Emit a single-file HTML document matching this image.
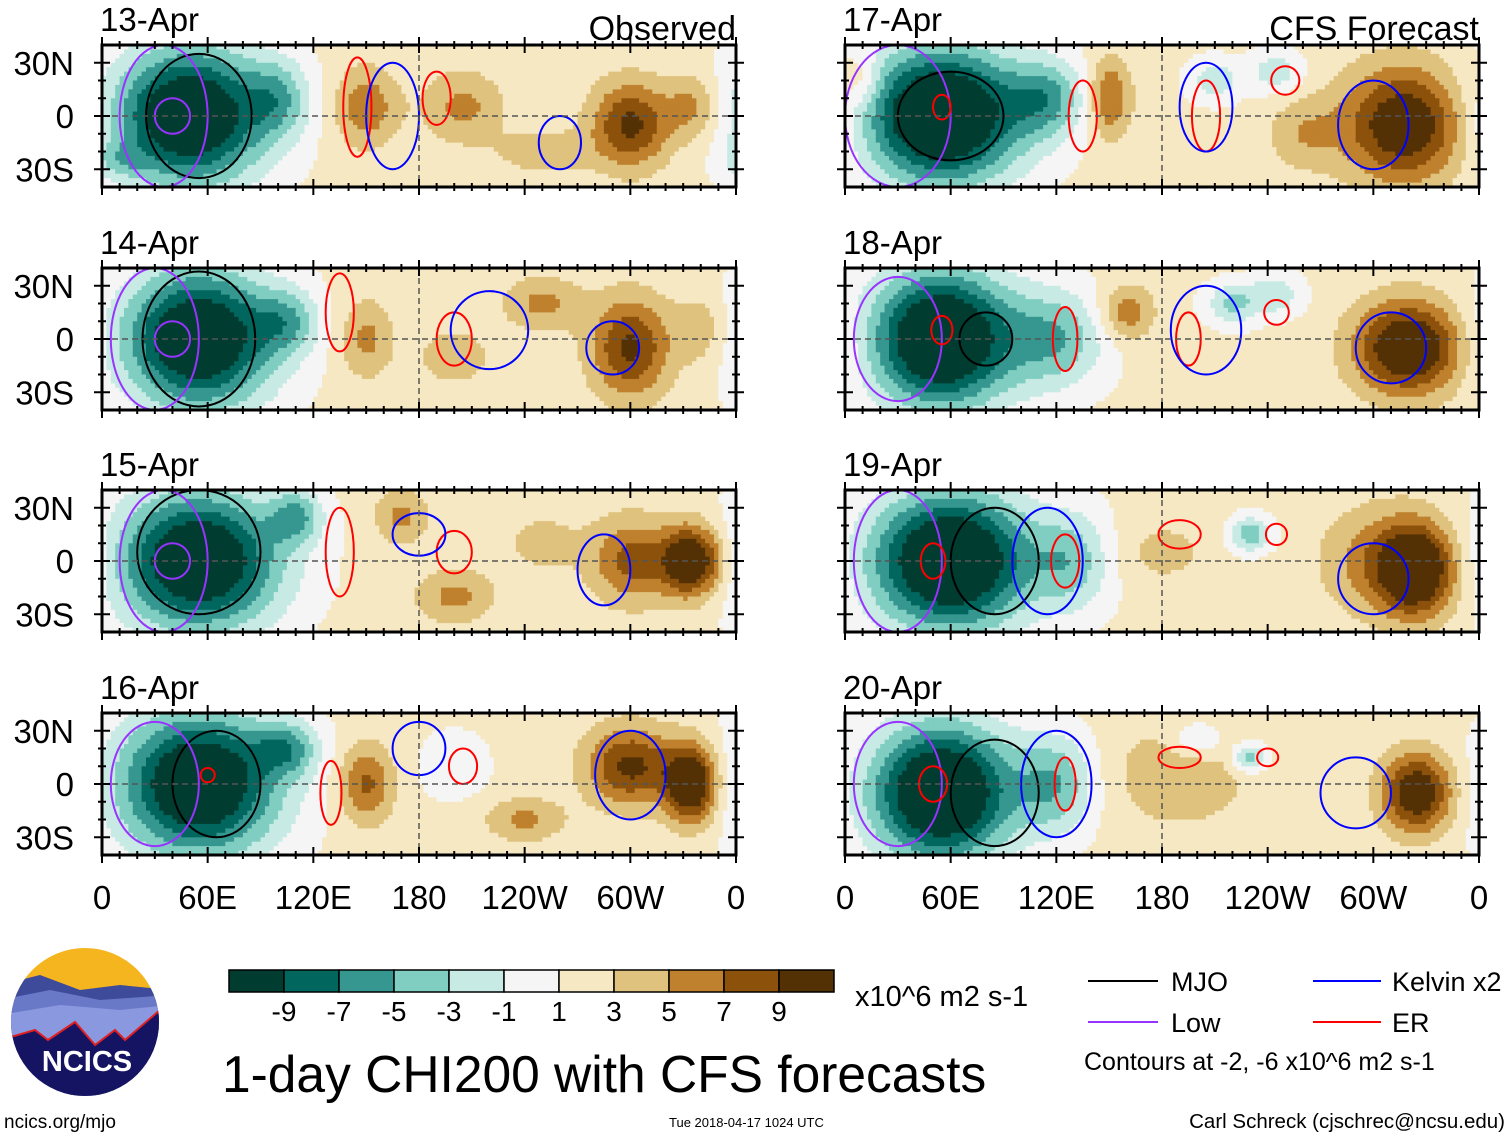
<!DOCTYPE html>
<html><head><meta charset="utf-8"><style>
body{margin:0;background:#fff;}
svg{display:block;font-family:"Liberation Sans",Arial,sans-serif;}
</style></head><body>
<svg id="chart" width="1510" height="1137" viewBox="0 0 1510 1137">
<g id="panels"></g>
<g id="cbar"></g>
<text x="855" y="1006" font-size="29">x10^6 m2 s-1</text>
<g>
<line x1="1088" y1="981" x2="1158" y2="981" stroke="#000" stroke-width="2"/>
<text x="1171" y="991" font-size="27">MJO</text>
<line x1="1088" y1="1022" x2="1158" y2="1022" stroke="#9933ff" stroke-width="2"/>
<text x="1171" y="1032" font-size="27">Low</text>
<line x1="1313" y1="981" x2="1381" y2="981" stroke="#0000ff" stroke-width="2"/>
<text x="1392" y="991" font-size="27">Kelvin x2</text>
<line x1="1313" y1="1022" x2="1381" y2="1022" stroke="#ff0000" stroke-width="2"/>
<text x="1392" y="1032" font-size="27">ER</text>
<text x="1084" y="1070" font-size="25">Contours at -2, -6 x10^6 m2 s-1</text>
</g>
<text x="222" y="1092" font-size="51.5">1-day CHI200 with CFS forecasts</text>
<text x="4" y="1128" font-size="19">ncics.org/mjo</text>
<text x="669" y="1127" font-size="13">Tue 2018-04-17 1024 UTC</text>
<text x="1505" y="1128" font-size="20.5" text-anchor="end">Carl Schreck (cjschrec@ncsu.edu)</text>
<g>
<clipPath id="lc"><circle cx="85" cy="1022" r="74"/></clipPath>
<g clip-path="url(#lc)">
<rect x="0" y="940" width="170" height="170" fill="#f5b51e"/>
<path d="M0 985 L40 975 L80 990 L120 985 L170 990 L170 1110 L0 1110Z" fill="#3e4a9a"/>
<path d="M0 1000 L50 990 L100 1000 L170 995 L170 1110 L0 1110Z" fill="#6a78c8"/>
<path d="M0 1015 L60 1005 L120 1010 L170 1005 L170 1110 L0 1110Z" fill="#8a98e0"/>
<path d="M0 1040 L35 1030 L48 1040 L75 1022 L95 1045 L115 1030 L125 1040 L160 1010 L170 1010 L170 1110 L0 1110Z" fill="#141463" stroke="#e02020" stroke-width="2"/>
</g>
<text x="87" y="1071" font-size="29" font-weight="bold" fill="#fff" text-anchor="middle">NCICS</text>
</g>
</svg>
<script>
const colors=["#003c30","#01665e","#35978f","#80cdc1","#c7eae5","#f5f5f5","#f6e8c3","#dfc27d","#bf812d","#8c510a","#543005"];
const levels=[-9,-7,-5,-3,-1,1,3,5,7,9];
const dates=["13-Apr","14-Apr","15-Apr","16-Apr","17-Apr","18-Apr","19-Apr","20-Apr"];
const lonTicks=["0","60E","120E","180","120W","60W","0"];
const latTicks=["30N","0","30S"];
// blobs: [lon, lat, amplitude, lonRadius, latRadius]
const blobs1=[[50,0,-15,42,38],[100,10,-5,18,22],[150,5,5,18,22],[205,5,4,22,20],[300,-5,8,22,24],[335,5,4,15,18],[10,-25,-3,15,10],[250,-20,3,25,12]];
const blobs2=[[55,0,-15,42,38],[105,10,-5,18,18],[150,0,4,15,22],[300,-5,8,22,28],[250,20,4,22,15],[200,-10,3,20,15],[340,5,3,15,20]];
const blobs3=[[55,0,-15,45,38],[110,25,-6,15,15],[170,25,4,15,15],[335,0,11,18,20],[300,0,6,22,24],[200,-20,4,22,15],[250,10,2,25,20]];
const blobs4=[[55,0,-15,45,40],[105,20,-6,18,15],[150,0,6,15,22],[300,10,8,25,22],[335,0,11,15,22],[240,-20,4,22,12],[200,10,-2,20,20]];
const blobs5=[[55,0,-16,45,38],[115,10,-6,22,22],[150,10,6,12,22],[210,20,-4,15,12],[318,-5,10,35,32],[260,-10,3,20,20],[245,25,-4,15,12],[10,20,3,10,15]];
const blobs6=[[55,0,-16,40,38],[120,0,-6,28,28],[160,15,5,15,15],[220,20,-5,15,12],[320,-5,11,30,26],[245,25,-4,15,12]];
const blobs7=[[60,0,-16,45,38],[130,0,-5,22,28],[230,15,-6,12,10],[325,-5,11,22,26],[300,0,4,30,30],[180,5,2,30,20]];
const blobs8=[[55,-5,-16,40,38],[120,0,-6,22,28],[230,15,-6,10,8],[325,-5,10,20,22],[190,5,3,40,30],[200,25,-4,15,10]];
const allBlobs=[blobs1,blobs2,blobs3,blobs4,blobs5,blobs6,blobs7,blobs8];
// contour ellipses: [type, lon, lat, lonRadius, latRadius]
const contours1=[["mjo",55,0,30,35],["low",35,0,25,40],["low",40,0,10,10],["er",145,5,8,28],["er",190,10,8,15],["kel",165,0,15,30],["kel",260,-15,12,15]];
const contours2=[["mjo",55,0,32,38],["low",30,0,25,40],["low",40,0,10,10],["er",135,15,8,22],["er",200,0,10,15],["kel",220,5,22,22],["kel",290,-5,15,15]];
const contours3=[["mjo",55,5,35,35],["low",35,0,25,40],["low",40,0,10,10],["er",135,5,8,25],["er",200,5,10,12],["kel",180,15,15,12],["kel",285,-5,15,20]];
const contours4=[["mjo",65,0,25,30],["low",30,0,25,35],["er",60,5,4,4],["er",130,-5,6,18],["er",205,10,8,10],["kel",180,20,15,15],["kel",300,5,20,25]];
const contours5=[["mjo",60,0,30,25],["low",30,0,30,40],["er",55,5,5,7],["er",135,0,8,20],["er",205,0,8,20],["er",250,20,8,8],["kel",205,5,15,25],["kel",300,-5,20,25]];
const contours6=[["mjo",80,0,15,15],["low",30,0,25,35],["er",55,5,6,8],["er",125,0,7,18],["er",195,0,7,15],["er",245,15,7,7],["kel",205,5,20,25],["kel",310,-5,20,20]];
const contours7=[["mjo",85,0,25,30],["low",30,0,25,40],["er",50,0,7,10],["er",125,0,8,15],["er",190,15,12,8],["er",245,15,6,6],["kel",115,0,20,30],["kel",300,-10,20,20]];
const contours8=[["mjo",85,-5,25,30],["low",30,0,25,35],["er",50,0,8,10],["er",125,0,6,15],["er",190,15,12,6],["er",240,15,6,5],["kel",120,0,20,30],["kel",290,-5,20,20]];
const allContours=[contours1,contours2,contours3,contours4,contours5,contours6,contours7,contours8];
const base=1.6;
const NS="http://www.w3.org/2000/svg";
function mk(t,a,p){const e=document.createElementNS(NS,t);for(const k in a)e.setAttribute(k,a[k]);p.appendChild(e);return e;}
const lefts=[102,845],W=634,tops=[45,268,490,713],H=142;
const panels=document.getElementById('panels');
const cCol={mjo:"#000",low:"#9933ff",er:"#ff0000",kel:"#0000ff"};
function field(b,lon,lat){let v=base;for(const [x,y,a,rx,ry] of b){let d=Math.abs(lon-x);if(d>180)d=360-d;v+=a*Math.exp(-((d/rx)**2+((lat-y)/ry)**2));}return v;}
function binOf(v){let i=0;for(const l of levels)if(v>l)i++;return i;}
for(let p=0;p<8;p++){
  const col=p<4?0:1,row=p%4,L=lefts[col],T=tops[row];
  const xs=lon=>L+lon/360*W, ys=lat=>T+H/2-lat/80*H;
  const g=mk('g',{},panels);
  
  
  const cid='clip'+p;
  const cp=mk('clipPath',{id:cid},g);mk('rect',{x:L,y:T,width:W,height:H},cp);
  const fg=mk('g',{'clip-path':'url(#'+cid+')'},g);
  const step=2.5;
  for(let lon=0;lon<360;lon+=step)for(let lat=40;lat>-40;lat-=step){
    const v=field(allBlobs[p],lon+step/2,lat-step/2);
    const r=mk('rect',{x:xs(lon).toFixed(1),y:ys(lat).toFixed(1),width:(W*step/360+0.6).toFixed(1),height:(H*step/80+0.6).toFixed(1),fill:colors[binOf(v)]},fg);
    
    
  }
  for(const [t,lon,lat,rx,ry] of allContours[p]){
    const e=mk('ellipse',{cx:xs(lon),cy:ys(lat),rx:rx/360*W,ry:ry/80*H,fill:'none',stroke:cCol[t],'stroke-width':2},fg);
    
    
  }
  mk('line',{x1:L,x2:L+W,y1:ys(0),y2:ys(0),stroke:'#555','stroke-width':1.5,'stroke-dasharray':'6,4'},fg);
  mk('line',{x1:xs(180),x2:xs(180),y1:T,y2:T+H,stroke:'#555','stroke-width':1.5,'stroke-dasharray':'6,4'},fg);
  mk('rect',{x:L,y:T,width:W,height:H,fill:'none',stroke:'#000','stroke-width':3},g);
  for(let lon=0;lon<=360;lon+=10){const len=lon%60===0?8:4;
    mk('line',{x1:xs(lon),x2:xs(lon),y1:T-len,y2:T+len,stroke:'#000','stroke-width':2},g);
    mk('line',{x1:xs(lon),x2:xs(lon),y1:T+H-len,y2:T+H+len,stroke:'#000','stroke-width':2},g);}
  for(let lat=-30;lat<=30;lat+=10){const len=lat%30===0?8:4;
    mk('line',{x1:L-len,x2:L+len,y1:ys(lat),y2:ys(lat),stroke:'#000','stroke-width':2},g);
    mk('line',{x1:L+W-len,x2:L+W+len,y1:ys(lat),y2:ys(lat),stroke:'#000','stroke-width':2},g);}
  const tt=mk('text',{x:L-2,y:T-14,'font-size':33},g);tt.textContent=dates[p];
  
  
  if(row===0){const h=mk('text',{x:L+W,y:T-5,'font-size':34,'text-anchor':'end'},g);h.textContent=col===0?"Observed":"CFS Forecast";
    
    }
  if(col===0)latTicks.forEach((s,i)=>{const t=mk('text',{x:74,y:ys(30-30*i)+12,'font-size':33,'text-anchor':'end'},g);t.textContent=s;
    
    });
  if(row===3)lonTicks.forEach((s,i)=>{const t=mk('text',{x:xs(i*60),y:909,'font-size':33,'text-anchor':'middle'},g);t.textContent=s;
    
    });
}
const cb=document.getElementById('cbar');
const cw=55;
colors.forEach((c,i)=>{const r=mk('rect',{x:229+i*cw,y:970,width:cw,height:22,fill:c,stroke:'#000','stroke-width':1.5},cb);
  
  });
levels.forEach((l,i)=>{const t=mk('text',{x:229+(i+1)*cw,y:1021,'font-size':28,'text-anchor':'middle'},cb);t.textContent=l;
  
  });
</script>
</body></html>
